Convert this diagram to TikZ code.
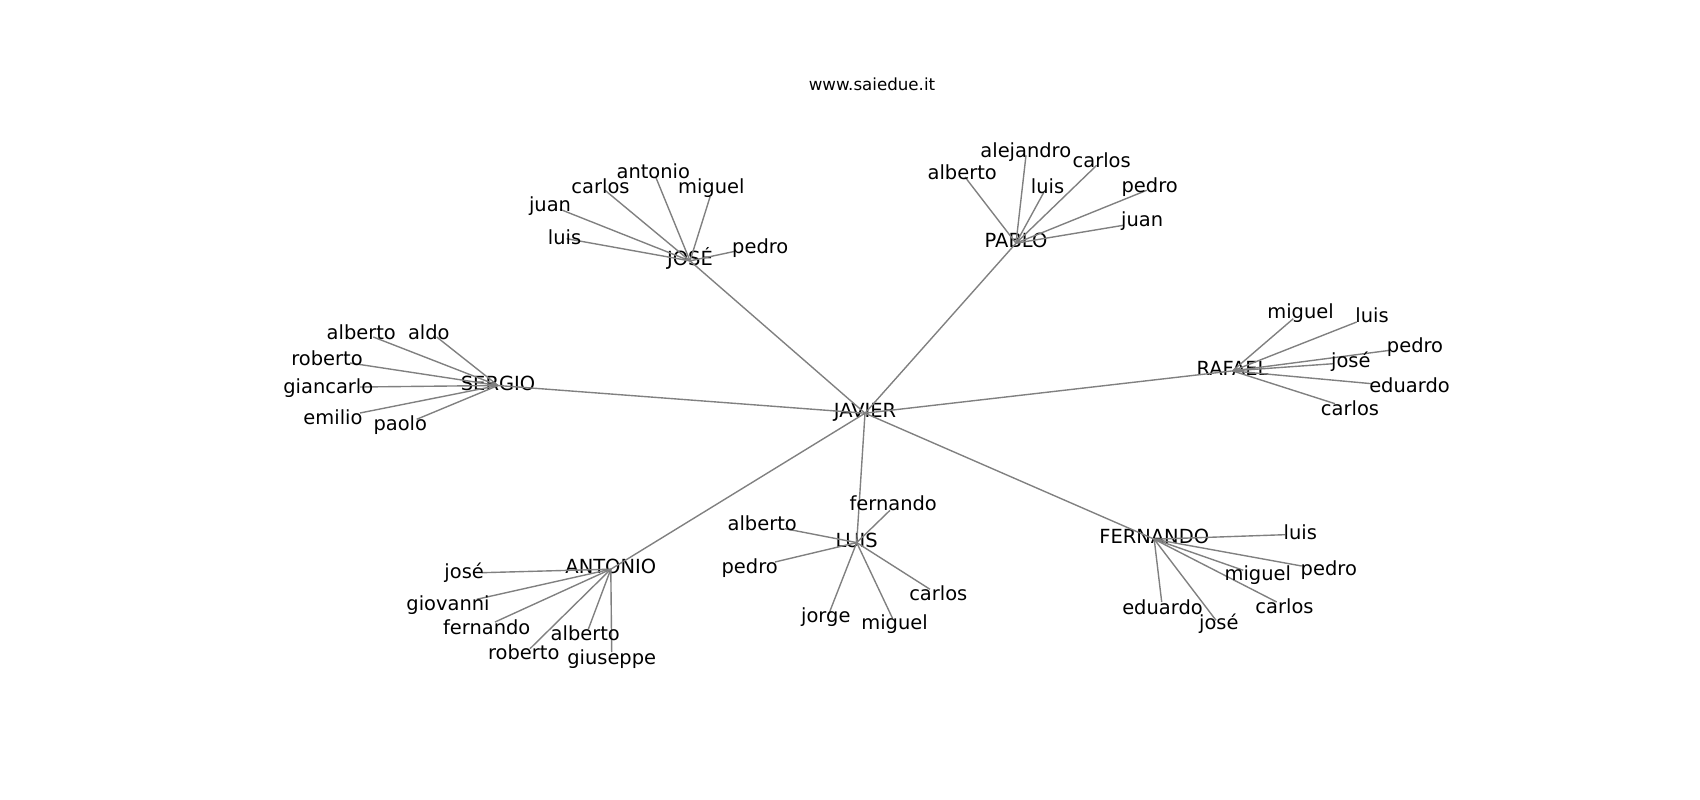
\documentclass[tikz,border=0pt]{standalone}
\usepackage{fontspec}
\setmainfont{DejaVu Sans}
\usetikzlibrary{positioning}

\tikzset{
  lbl/.style={anchor=base, inner sep=0pt, yshift=-0.025in, font=\fontsize{14bp}{17bp}\selectfont},
  hub/.style={lbl, anchor=center, text height=0.68em, text depth=0pt},
  tie/.style={draw=gray, line width=1bp}
}

\begin{document}
\begin{tikzpicture}[x=0.01in, y=-0.01in]
\useasboundingbox (0,0) rectangle (1700,800);

\node[lbl, font=\fontsize{12bp}{14bp}\selectfont] (title) at (872,87.7) {www.saiedue.it};

% hubs
\node[hub] (javier) at (865,410.7) {JAVIER};
\node[hub] (jose) at (690,258.4) {JOSÉ};
\node[hub] (pablo) at (1016,240.7) {PABLO};
\node[hub] (rafael) at (1232.5,368.4) {RAFAEL};
\node[hub] (sergio) at (498,383) {SERGIO};
\node[hub] (antonio) at (610.8,566.7) {ANTONIO};
\node[hub] (luis) at (856.7,540.1) {LUIS};
\node[hub] (fernando) at (1154.2,536.7) {FERNANDO};

% ends of the leaf edges
\coordinate (jo-antonio) at (655.7,177);
\coordinate (jo-carlos) at (605,190.3);
\coordinate (jo-miguel) at (710,197);
\coordinate (jo-juan) at (560,209.3);
\coordinate (jo-luis) at (566.7,238.7);
\coordinate (jo-pedro) at (735,251.3);

\coordinate (pa-alberto) at (965,177);
\coordinate (pa-alejandro) at (1026,155.3);
\coordinate (pa-luis) at (1044,192);
\coordinate (pa-carlos) at (1096.7,165.3);
\coordinate (pa-pedro) at (1146.7,190.3);
\coordinate (pa-juan) at (1123.3,225.3);

\coordinate (ra-miguel) at (1293.3,318.7);
\coordinate (ra-luis) at (1356.7,322);
\coordinate (ra-pedro) at (1390,350.3);
\coordinate (ra-jose) at (1333.3,363.7);
\coordinate (ra-eduardo) at (1371.7,383.7);
\coordinate (ra-carlos) at (1335,403.7);

\coordinate (se-alberto) at (373.3,337);
\coordinate (se-aldo) at (436.7,337);
\coordinate (se-roberto) at (350,363);
\coordinate (se-giancarlo) at (360,387);
\coordinate (se-emilio) at (360,413);
\coordinate (se-paolo) at (416.7,419.3);

\coordinate (an-jose) at (481.7,572.7);
\coordinate (an-giovanni) at (476.7,599.3);
\coordinate (an-fernando) at (495,622);
\coordinate (an-alberto) at (588.3,629.3);
\coordinate (an-roberto) at (530,648.7);
\coordinate (an-giuseppe) at (611.7,652);

\coordinate (lu-fernando) at (890,510.3);
\coordinate (lu-alberto) at (785,528.7);
\coordinate (lu-pedro) at (775,562);
\coordinate (lu-carlos) at (930,589.3);
\coordinate (lu-jorge) at (828.3,615.3);
\coordinate (lu-miguel) at (892.7,618.7);

\coordinate (fe-luis) at (1285,534.7);
\coordinate (fe-pedro) at (1301.7,566);
\coordinate (fe-miguel) at (1243.3,570.3);
\coordinate (fe-eduardo) at (1161.7,602);
\coordinate (fe-carlos) at (1276.7,602);
\coordinate (fe-jose) at (1216,620.3);

% edges
\draw[tie] (javier.center) -- (jose.center);
\draw[tie] (javier.center) -- (pablo.center);
\draw[tie] (javier.center) -- (rafael.center);
\draw[tie] (javier.center) -- (sergio.center);
\draw[tie] (javier.center) -- (antonio.center);
\draw[tie] (javier.center) -- (luis.center);
\draw[tie] (javier.center) -- (fernando.center);

\draw[tie] (jose.center) -- (jo-antonio);
\draw[tie] (jose.center) -- (jo-carlos);
\draw[tie] (jose.center) -- (jo-miguel);
\draw[tie] (jose.center) -- (jo-juan);
\draw[tie] (jose.center) -- (jo-luis);
\draw[tie] (jose.center) -- (jo-pedro);

\draw[tie] (pablo.center) -- (pa-alberto);
\draw[tie] (pablo.center) -- (pa-alejandro);
\draw[tie] (pablo.center) -- (pa-luis);
\draw[tie] (pablo.center) -- (pa-carlos);
\draw[tie] (pablo.center) -- (pa-pedro);
\draw[tie] (pablo.center) -- (pa-juan);

\draw[tie] (rafael.center) -- (ra-miguel);
\draw[tie] (rafael.center) -- (ra-luis);
\draw[tie] (rafael.center) -- (ra-pedro);
\draw[tie] (rafael.center) -- (ra-jose);
\draw[tie] (rafael.center) -- (ra-eduardo);
\draw[tie] (rafael.center) -- (ra-carlos);

\draw[tie] (sergio.center) -- (se-alberto);
\draw[tie] (sergio.center) -- (se-aldo);
\draw[tie] (sergio.center) -- (se-roberto);
\draw[tie] (sergio.center) -- (se-giancarlo);
\draw[tie] (sergio.center) -- (se-emilio);
\draw[tie] (sergio.center) -- (se-paolo);

\draw[tie] (antonio.center) -- (an-jose);
\draw[tie] (antonio.center) -- (an-giovanni);
\draw[tie] (antonio.center) -- (an-fernando);
\draw[tie] (antonio.center) -- (an-alberto);
\draw[tie] (antonio.center) -- (an-roberto);
\draw[tie] (antonio.center) -- (an-giuseppe);

\draw[tie] (luis.center) -- (lu-fernando);
\draw[tie] (luis.center) -- (lu-alberto);
\draw[tie] (luis.center) -- (lu-pedro);
\draw[tie] (luis.center) -- (lu-carlos);
\draw[tie] (luis.center) -- (lu-jorge);
\draw[tie] (luis.center) -- (lu-miguel);

\draw[tie] (fernando.center) -- (fe-luis);
\draw[tie] (fernando.center) -- (fe-pedro);
\draw[tie] (fernando.center) -- (fe-miguel);
\draw[tie] (fernando.center) -- (fe-eduardo);
\draw[tie] (fernando.center) -- (fe-carlos);
\draw[tie] (fernando.center) -- (fe-jose);

% leaf labels
\node[lbl] (jo-antonio-t) at (653.3,176) {antonio};
\node[lbl] (jo-carlos-t) at (600.5,191) {carlos};
\node[lbl] (jo-miguel-t) at (711.3,191) {miguel};
\node[lbl] (jo-juan-t) at (550,209.3) {juan};
\node[lbl] (jo-luis-t) at (564.5,242.3) {luis};
\node[lbl] (jo-pedro-t) at (760.3,251) {pedro};

\node[lbl] (pa-alberto-t) at (962.2,177.3) {alberto};
\node[lbl] (pa-alejandro-t) at (1025.8,155) {alejandro};
\node[lbl] (pa-luis-t) at (1047.5,191) {luis};
\node[lbl] (pa-carlos-t) at (1101.7,165) {carlos};
\node[lbl] (pa-pedro-t) at (1149.7,190) {pedro};
\node[lbl] (pa-juan-t) at (1142.2,224.3) {juan};

\node[lbl] (ra-miguel-t) at (1300.5,316) {miguel};
\node[lbl] (ra-luis-t) at (1372,320) {luis};
\node[lbl] (ra-pedro-t) at (1415,350) {pedro};
\node[lbl] (ra-jose-t) at (1350.8,365) {josé};
\node[lbl] (ra-eduardo-t) at (1409.5,390) {eduardo};
\node[lbl] (ra-carlos-t) at (1350,413.3) {carlos};

\node[lbl] (se-alberto-t) at (361.3,336.7) {alberto};
\node[lbl] (se-aldo-t) at (428.8,336.7) {aldo};
\node[lbl] (se-roberto-t) at (327,363.3) {roberto};
\node[lbl] (se-giancarlo-t) at (328.3,390.7) {giancarlo};
\node[lbl] (se-emilio-t) at (333,421.7) {emilio};
\node[lbl] (se-paolo-t) at (400.3,428.3) {paolo};

\node[lbl] (an-jose-t) at (464.2,576) {josé};
\node[lbl] (an-giovanni-t) at (448,608.3) {giovanni};
\node[lbl] (an-fernando-t) at (486.7,632.3) {fernando};
\node[lbl] (an-alberto-t) at (585.3,638.3) {alberto};
\node[lbl] (an-roberto-t) at (523.8,657.3) {roberto};
\node[lbl] (an-giuseppe-t) at (611.7,661.7) {giuseppe};

\node[lbl] (lu-fernando-t) at (893.2,508.3) {fernando};
\node[lbl] (lu-alberto-t) at (762.2,528.3) {alberto};
\node[lbl] (lu-pedro-t) at (749.7,570.7) {pedro};
\node[lbl] (lu-carlos-t) at (938.3,598.3) {carlos};
\node[lbl] (lu-jorge-t) at (825.8,620) {jorge};
\node[lbl] (lu-miguel-t) at (894.5,626.7) {miguel};

\node[lbl] (fe-luis-t) at (1300.3,536.7) {luis};
\node[lbl] (fe-pedro-t) at (1328.8,572.7) {pedro};
\node[lbl] (fe-miguel-t) at (1257.8,578.3) {miguel};
\node[lbl] (fe-eduardo-t) at (1162.5,611.7) {eduardo};
\node[lbl] (fe-carlos-t) at (1284.5,610.7) {carlos};
\node[lbl] (fe-jose-t) at (1218.8,626.7) {josé};
\end{tikzpicture}
\end{document}
